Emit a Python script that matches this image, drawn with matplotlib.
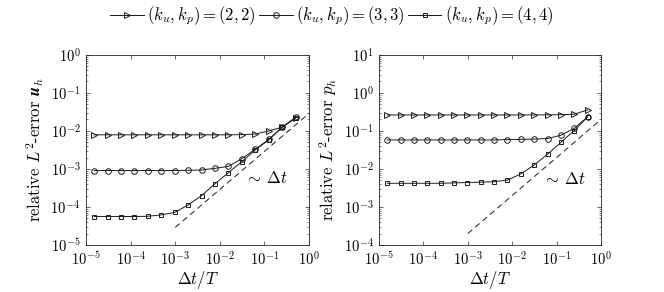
import numpy as np
import matplotlib
matplotlib.use("Agg")
import matplotlib.pyplot as plt

plt.rcParams['mathtext.fontset'] = 'cm'
plt.rcParams['font.family'] = 'serif'
plt.rcParams['font.serif'] = ['cmr10', 'DejaVu Serif']
plt.rcParams['axes.formatter.use_mathtext'] = True

# time step sizes dt/T
dt = [0.5, 0.25, 0.125, 0.0625, 0.03125, 0.015625, 7.8125e-3, 3.90625e-3,
      1.953125e-3, 9.765625e-4, 4.8828125e-4, 2.44140625e-4, 1.220703125e-4,
      6.103515625e-5, 3.0517578125e-5, 1.52587890625e-5]

# relative L2 error of u_h
u_k2 = [0.022, 0.0126, 0.0100, 0.0083, 0.0080, 0.0079, 0.0079, 0.0079,
        0.0079, 0.0079, 0.0079, 0.0079, 0.0079, 0.0079, 0.0079, 0.0079]
u_k3 = [0.023, 0.0126, 0.0060, 0.0033, 0.00187, 0.00117, 0.00104, 0.00094,
        0.00092, 0.00091, 0.00091, 0.00091, 0.00091, 0.00091, 0.00091, 0.00091]
u_k4 = [0.022, 0.0126, 0.0058, 0.0032, 0.00156, 0.00080, 0.00041, 0.00020,
        0.000113, 0.000072, 0.000062, 0.000057, 0.000056, 0.000056, 0.000056, 0.000056]

# relative L2 error of p_h
p_k2 = [0.357, 0.275, 0.268, 0.265, 0.264, 0.263, 0.263, 0.263,
        0.263, 0.263, 0.263, 0.263, 0.263, 0.263, 0.263, 0.263]
p_k3 = [0.234, 0.117, 0.077, 0.063, 0.061, 0.060, 0.059, 0.058,
        0.058, 0.058, 0.058, 0.058, 0.058, 0.058, 0.058, 0.058]
p_k4 = [0.234, 0.102, 0.050, 0.0243, 0.0127, 0.0074, 0.0051, 0.0046,
        0.0045, 0.0044, 0.0043, 0.0042, 0.0042, 0.0042, 0.0042, 0.0042]

# reference slope lines ~ dt
ref_x = [1e-3, 1.0]
ref_u = [2.9e-5, 0.029]
ref_p = [2.0e-4, 0.2]

labels = [r'$(k_u,k_p)=(2,2)$', r'$(k_u,k_p)=(3,3)$', r'$(k_u,k_p)=(4,4)$']
markers = ['>', 'o', 's']
msizes = [4.2, 4.0, 3.4]
col = '0.1'

fig = plt.figure(figsize=(6.64, 2.92), dpi=100)
ax1 = fig.add_axes([0.1295, 0.161, 0.336, 0.651])
ax2 = fig.add_axes([0.571, 0.161, 0.334, 0.651])

def draw(ax, series, rx, ry, ylim, ylabel, tx, ty):
    hs = []
    for s, m, ms, lab in zip(series, markers, msizes, labels):
        h, = ax.plot(dt, s, color=col, lw=0.7, marker=m, ms=ms,
                     mfc='none', mec=col, mew=0.7, label=lab)
        hs.append(h)
    ax.plot(rx, ry, '--', color=col, lw=0.7, dashes=(6, 4))
    ax.text(tx, ty, r'$\sim\,\Delta t$', fontsize=12, ha='left', va='center')
    ax.set_xscale('log')
    ax.set_yscale('log')
    ax.set_xlim(1e-5, 1)
    ax.set_ylim(*ylim)
    ax.set_xticks([1e-5, 1e-4, 1e-3, 1e-2, 1e-1, 1])
    ax.tick_params(which='both', direction='in', top=True, right=True,
                   colors='0.15', labelcolor='k', labelsize=10.5)
    ax.tick_params(which='major', length=3, width=0.5)
    ax.tick_params(which='minor', length=1.6, width=0.4)
    ax.tick_params(axis='x', which='major', pad=4)
    ax.tick_params(axis='y', which='major', pad=4)
    for sp in ax.spines.values():
        sp.set_color('0.15')
        sp.set_linewidth(0.6)
    ax.set_xlabel(r'$\Delta t/T$', fontsize=12, labelpad=0.5)
    ax.set_ylabel(ylabel, fontsize=12, labelpad=3)
    return hs

hs = draw(ax1, [u_k2, u_k3, u_k4], ref_x, ref_u, (1e-5, 1),
          r'relative $L^2$-error $\mathbfit{u}_h$', 0.036, 5.7e-4)
ax1.set_yticks([1e-5, 1e-4, 1e-3, 1e-2, 1e-1, 1])
draw(ax2, [p_k2, p_k3, p_k4], ref_x, ref_p, (1e-4, 10),
     r'relative $L^2$-error $p_h$', 0.05, 5.6e-3)
ax2.set_yticks([1e-4, 1e-3, 1e-2, 1e-1, 1, 10])

fig.legend(handles=hs, loc='center', bbox_to_anchor=(0.5, 0.945), ncol=3,
           frameon=False, fontsize=12, handlelength=2.0, handletextpad=0.2,
           columnspacing=0.2, borderaxespad=0)

fig.savefig('out.png', dpi=100)
